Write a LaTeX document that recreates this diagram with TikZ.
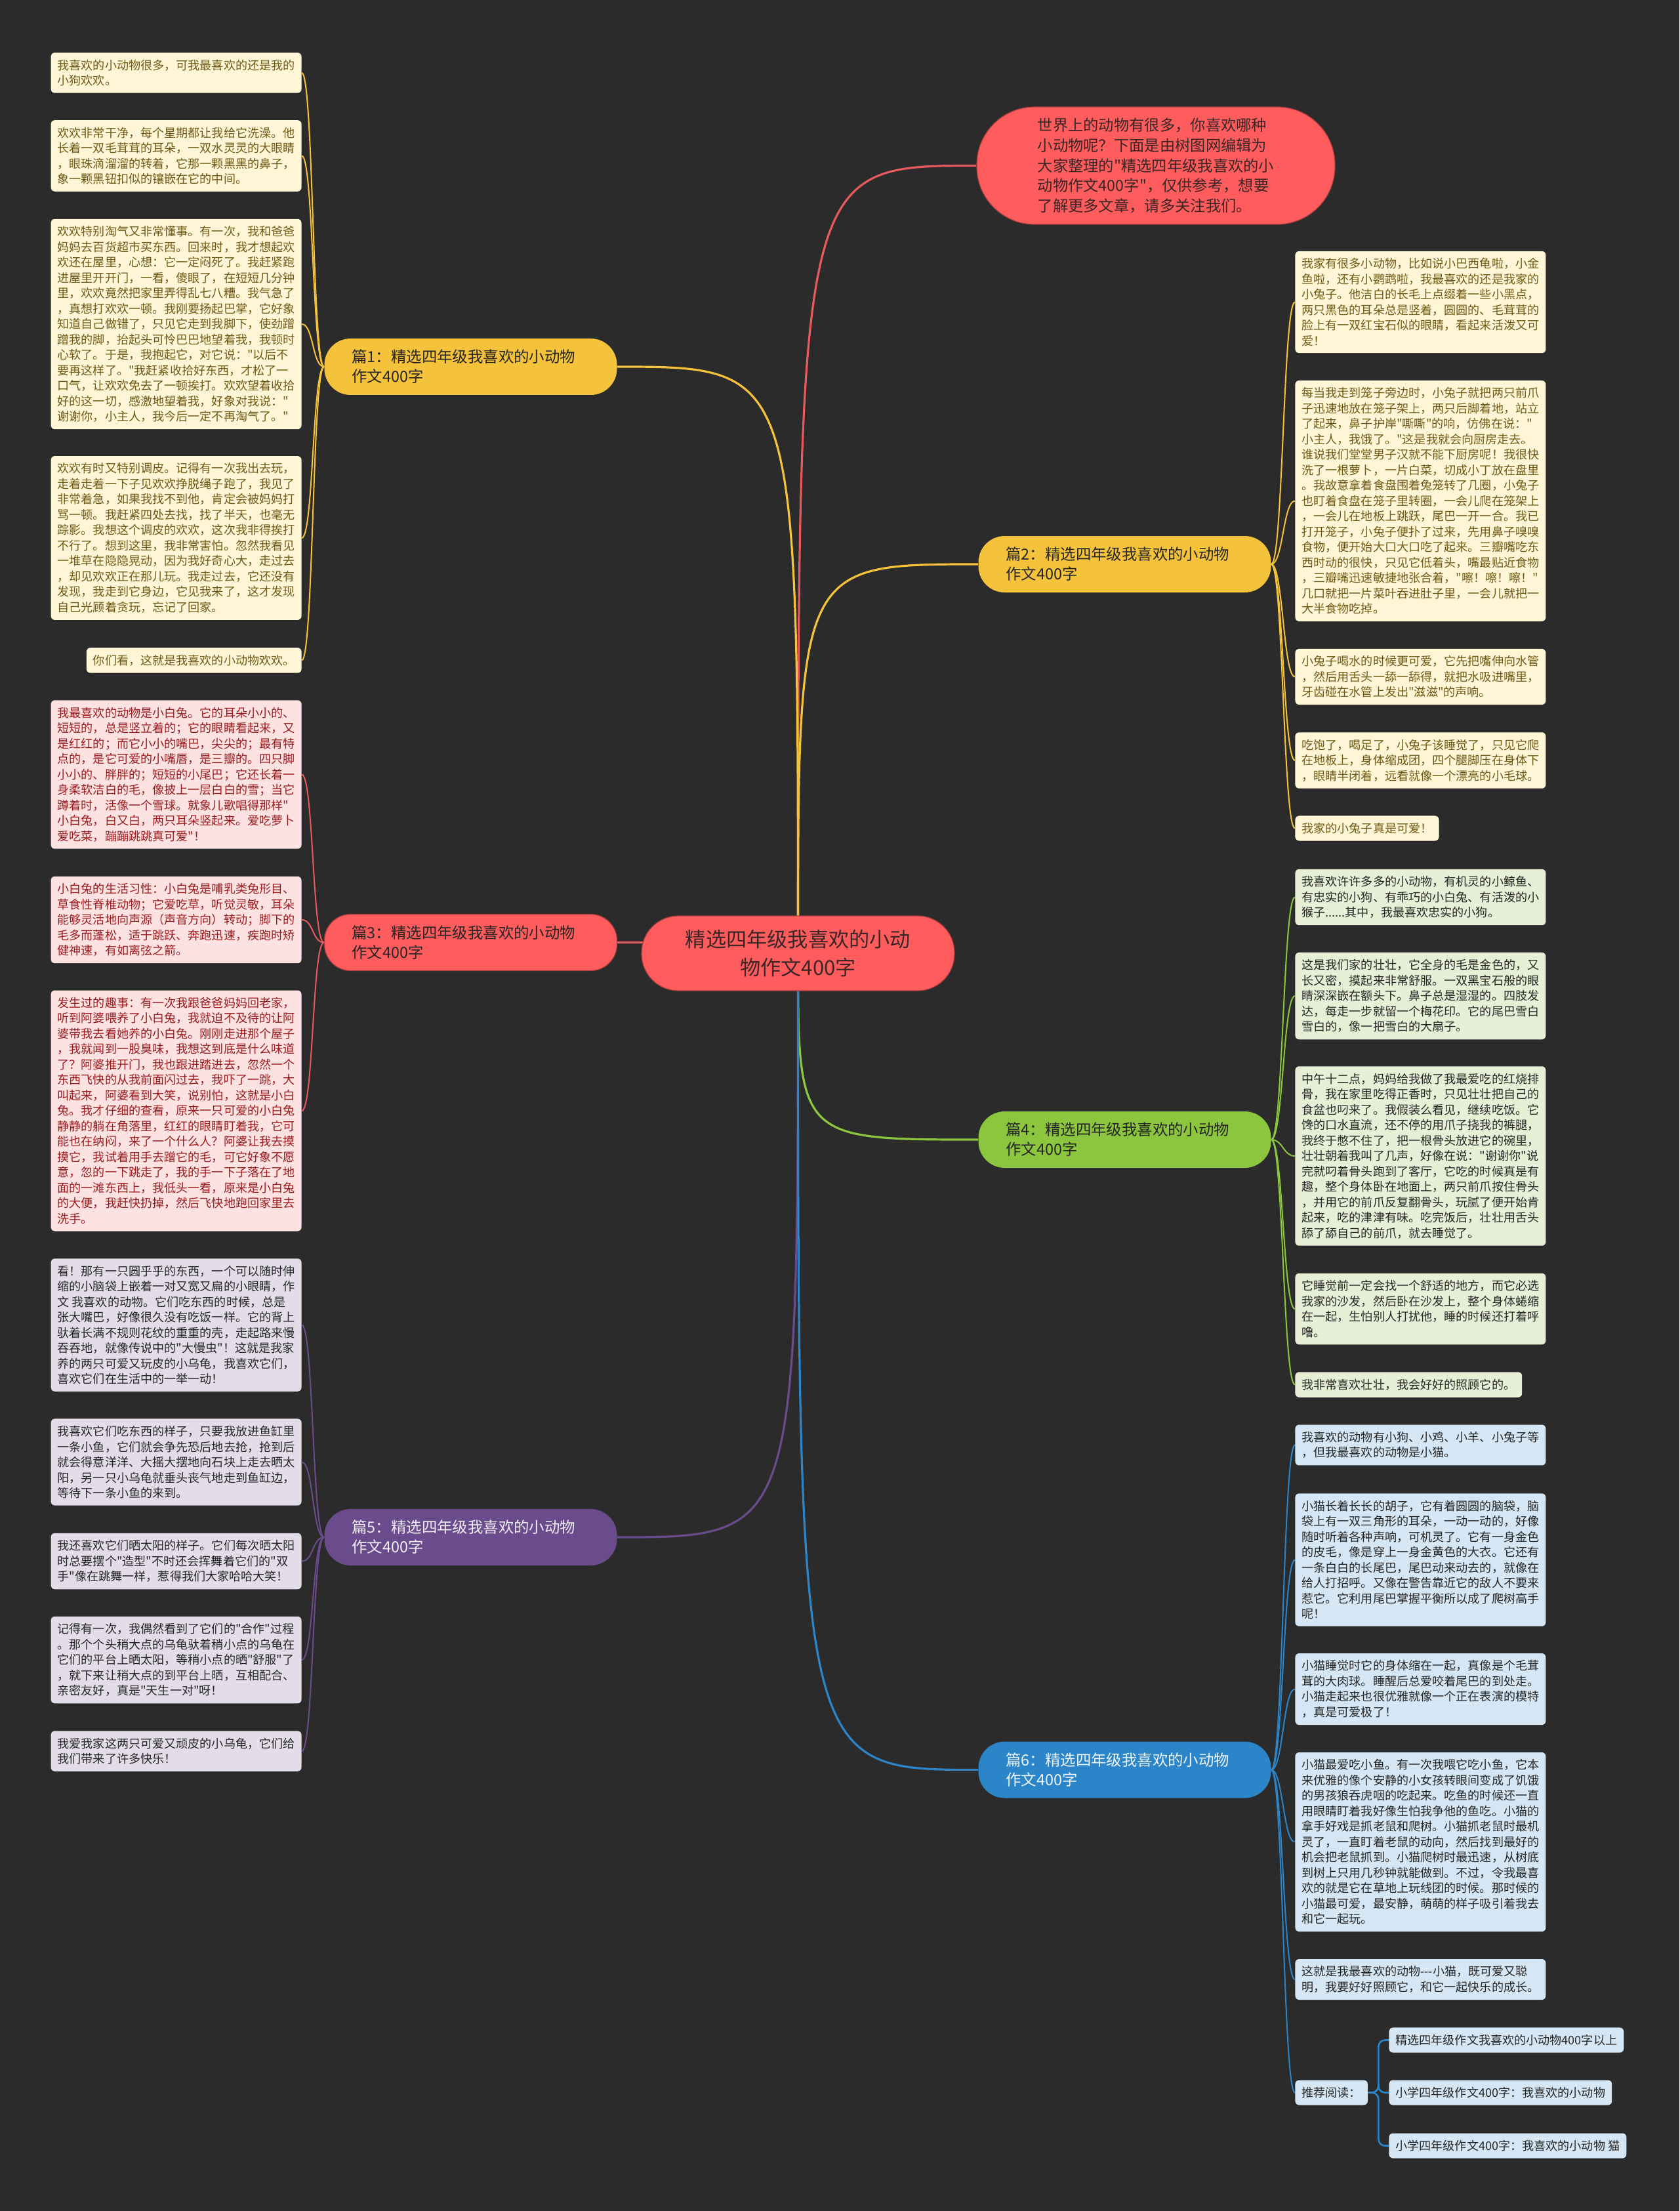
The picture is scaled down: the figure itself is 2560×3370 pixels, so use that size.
\documentclass[tikz,border=0pt]{standalone}
\usepackage{fontspec}
\setmainfont{Noto Sans CJK SC}[Ligatures=TeXOff]

\definecolor{bgcol}{HTML}{2B2B2B}
\definecolor{cenred}{HTML}{FF5C5E}
\definecolor{centext}{HTML}{3A2626}
\definecolor{ylw}{HTML}{F5C23C}
\definecolor{ylwfill}{HTML}{FFF6D8}
\definecolor{ylwtext}{HTML}{6E5A14}
\definecolor{rd}{HTML}{FF5C5E}
\definecolor{rdline}{HTML}{E65A5D}
\definecolor{rdfill}{HTML}{FDE2E2}
\definecolor{rdtext}{HTML}{9B1B1E}
\definecolor{grn}{HTML}{8CC63F}
\definecolor{grnfill}{HTML}{E7F0D6}
\definecolor{pur}{HTML}{6A4C8C}
\definecolor{purfill}{HTML}{E2DDE9}
\definecolor{blu}{HTML}{2B85C8}
\definecolor{blufill}{HTML}{D5E7F4}
\definecolor{darktext}{HTML}{262626}

\pgfdeclarelayer{fondo}
\pgfdeclarelayer{lineas}
\pgfsetlayers{fondo,lineas,main}

\begin{document}
\begin{tikzpicture}[x=0.5pt,y=-0.5pt,
  leaf/.style={rounded corners=3pt,align=left,inner xsep=5pt,inner ysep=5.3pt,
    font=\fontsize{9.05}{11.75}\selectfont},
  yleaf/.style={leaf,fill=ylwfill,text=ylwtext},
  rleaf/.style={leaf,fill=rdfill,text=rdtext},
  gleaf/.style={leaf,fill=grnfill,text=darktext},
  pleaf/.style={leaf,fill=purfill,text=darktext},
  bleaf/.style={leaf,fill=blufill,text=darktext},
  branch/.style={rounded corners=20pt,align=left,text width=181pt,inner xsep=21pt,
    minimum height=43pt,font=\fontsize{11.7}{15}\selectfont},
  rednode/.style={fill=cenred,draw=cenred!65!black,line width=0.6pt,text=centext},
  mainline/.style={line width=1.6pt},
  leafline/.style={line width=1pt}]
  % ============ fondo ============
  \begin{pgfonlayer}{fondo}
    \fill[bgcol] (0,0) rectangle (2560,3370);
  \end{pgfonlayer}
  % ============ nodos principales ============
  \node[rednode,rounded corners=28pt,minimum width=238.5pt,minimum height=57pt,
    align=center,font=\fontsize{15.6}{21.5}\selectfont] (cen) at (1216.5,1453)
    {精选四年级我喜欢的小动\\物作文400字};
  \node[rednode,rounded corners=44pt,minimum width=273pt,minimum height=89.5pt,
    align=left,font=\fontsize{11.65}{15.35}\selectfont] (intro) at (1762,252.5)
    {世界上的动物有很多，你喜欢哪种\\小动物呢？下面是由树图网编辑为\\大家整理的"精选四年级我喜欢的小\\动物作文400字"，仅供参考，想要\\了解更多文章，请多关注我们。};
  \node[branch,fill=ylw,text=darktext] (p1) at (717.5,559) {篇1：精选四年级我喜欢的小动物\\作文400字};
  \node[branch,fill=ylw,text=darktext] (p2) at (1714.5,860) {篇2：精选四年级我喜欢的小动物\\作文400字};
  \node[branch,rednode,text=darktext] (p3) at (717.5,1436.5) {篇3：精选四年级我喜欢的小动物\\作文400字};
  \node[branch,fill=grn,text=darktext] (p4) at (1714.5,1737) {篇4：精选四年级我喜欢的小动物\\作文400字};
  \node[branch,fill=pur,text=white!90!pur] (p5) at (717.5,2343) {篇5：精选四年级我喜欢的小动物\\作文400字};
  \node[branch,fill=blu,text=white!92!blu] (p6) at (1714.5,2697.5) {篇6：精选四年级我喜欢的小动物\\作文400字};
  % ============ 篇1 (izquierda) ============
  \node[yleaf,anchor=east] (p1a) at (460,111) {我喜欢的小动物很多，可我最喜欢的还是我的\\小狗欢欢。};
  \node[yleaf,anchor=east] (p1b) at (460,237.5) {欢欢非常干净，每个星期都让我给它洗澡。他\\长着一双毛茸茸的耳朵，一双水灵灵的大眼睛\\，眼珠滴溜溜的转着，它那一颗黑黑的鼻子，\\象一颗黑钮扣似的镶嵌在它的中间。};
  \node[yleaf,anchor=east] (p1c) at (460,494) {欢欢特别淘气又非常懂事。有一次，我和爸爸\\妈妈去百货超市买东西。回来时，我才想起欢\\欢还在屋里，心想：它一定闷死了。我赶紧跑\\进屋里开开门，一看，傻眼了，在短短几分钟\\里，欢欢竟然把家里弄得乱七八糟。我气急了\\，真想打欢欢一顿。我刚要扬起巴掌，它好象\\知道自己做错了，只见它走到我脚下，使劲蹭\\蹭我的脚，抬起头可怜巴巴地望着我，我顿时\\心软了。于是，我抱起它，对它说："以后不\\要再这样了。"我赶紧收拾好东西，才松了一\\口气，让欢欢免去了一顿挨打。欢欢望着收拾\\好的这一切，感激地望着我，好象对我说："\\谢谢你，小主人，我今后一定不再淘气了。"};
  \node[yleaf,anchor=east] (p1d) at (460,820) {欢欢有时又特别调皮。记得有一次我出去玩，\\走着走着一下子见欢欢挣脱绳子跑了，我见了\\非常着急，如果我找不到他，肯定会被妈妈打\\骂一顿。我赶紧四处去找，找了半天，也毫无\\踪影。我想这个调皮的欢欢，这次我非得挨打\\不行了。想到这里，我非常害怕。忽然我看见\\一堆草在隐隐晃动，因为我好奇心大，走过去\\，却见欢欢正在那儿玩。我走过去，它还没有\\发现，我走到它身边，它见我来了，这才发现\\自己光顾着贪玩，忘记了回家。};
  \node[yleaf,anchor=east] (p1e) at (460,1006.5) {你们看，这就是我喜欢的小动物欢欢。};
  % ============ 篇3 (izquierda) ============
  \node[rleaf,anchor=east] (p3a) at (460,1180.5) {我最喜欢的动物是小白兔。它的耳朵小小的、\\短短的，总是竖立着的；它的眼睛看起来，又\\是红红的；而它小小的嘴巴，尖尖的；最有特\\点的，是它可爱的小嘴唇，是三瓣的。四只脚\\小小的、胖胖的；短短的小尾巴；它还长着一\\身柔软洁白的毛，像披上一层白白的雪；当它\\蹲着时，活像一个雪球。就象儿歌唱得那样"\\小白兔，白又白，两只耳朵竖起来。爱吃萝卜\\爱吃菜，蹦蹦跳跳真可爱"！};
  \node[rleaf,anchor=east] (p3b) at (460,1402) {小白兔的生活习性：小白兔是哺乳类兔形目、\\草食性脊椎动物；它爱吃草，听觉灵敏，耳朵\\能够灵活地向声源（声音方向）转动；脚下的\\毛多而蓬松，适于跳跃、奔跑迅速，疾跑时矫\\健神速，有如离弦之箭。};
  \node[rleaf,anchor=east] (p3c) at (460,1693) {发生过的趣事：有一次我跟爸爸妈妈回老家，\\听到阿婆喂养了小白兔，我就迫不及待的让阿\\婆带我去看她养的小白兔。刚刚走进那个屋子\\，我就闻到一股臭味，我想这到底是什么味道\\了？阿婆推开门，我也跟进踏进去，忽然一个\\东西飞快的从我前面闪过去，我吓了一跳，大\\叫起来，阿婆看到大笑，说别怕，这就是小白\\兔。我才仔细的查看，原来一只可爱的小白兔\\静静的躺在角落里，红红的眼睛盯着我，它可\\能也在纳闷，来了一个什么人？阿婆让我去摸\\摸它，我试着用手去蹭它的毛，可它好象不愿\\意，忽的一下跳走了，我的手一下子落在了地\\面的一滩东西上，我低头一看，原来是小白兔\\的大便，我赶快扔掉，然后飞快地跑回家里去\\洗手。};
  % ============ 篇5 (izquierda) ============
  \node[pleaf,anchor=east] (p5a) at (460,2019.5) {看！那有一只圆乎乎的东西，一个可以随时伸\\缩的小脑袋上嵌着一对又宽又扁的小眼睛，作\\文 我喜欢的动物。它们吃东西的时候，总是\\张大嘴巴，好像很久没有吃饭一样。它的背上\\驮着长满不规则花纹的重重的壳，走起路来慢\\吞吞地，就像传说中的"大慢虫"！这就是我家\\养的两只可爱又玩皮的小乌龟，我喜欢它们，\\喜欢它们在生活中的一举一动！};
  \node[pleaf,anchor=east] (p5b) at (460,2228.5) {我喜欢它们吃东西的样子，只要我放进鱼缸里\\一条小鱼，它们就会争先恐后地去抢，抢到后\\就会得意洋洋、大摇大摆地向石块上走去晒太\\阳，另一只小乌龟就垂头丧气地走到鱼缸边，\\等待下一条小鱼的来到。};
  \node[pleaf,anchor=east] (p5c) at (460,2379.5) {我还喜欢它们晒太阳的样子。它们每次晒太阳\\时总要摆个"造型"不时还会挥舞着它们的"双\\手"像在跳舞一样，惹得我们大家哈哈大笑！};
  \node[pleaf,anchor=east] (p5d) at (460,2530) {记得有一次，我偶然看到了它们的"合作"过程\\。那个个头稍大点的乌龟驮着稍小点的乌龟在\\它们的平台上晒太阳，等稍小点的晒"舒服"了\\，就下来让稍大点的到平台上晒，互相配合、\\亲密友好，真是"天生一对"呀！};
  \node[pleaf,anchor=east] (p5e) at (460,2669) {我爱我家这两只可爱又顽皮的小乌龟，它们给\\我们带来了许多快乐！};
  % ============ 篇2 (derecha) ============
  \node[yleaf,anchor=west] (p2a) at (1974,460.5) {我家有很多小动物，比如说小巴西龟啦，小金\\鱼啦，还有小鹦鹉啦，我最喜欢的还是我家的\\小兔子。他洁白的长毛上点缀着一些小黑点，\\两只黑色的耳朵总是竖着，圆圆的、毛茸茸的\\脸上有一双红宝石似的眼睛，看起来活泼又可\\爱！};
  \node[yleaf,anchor=west] (p2b) at (1974,763.5) {每当我走到笼子旁边时，小兔子就把两只前爪\\子迅速地放在笼子架上，两只后脚着地，站立\\了起来，鼻子护岸"嘶嘶"的响，仿佛在说："\\小主人，我饿了。"这是我就会向厨房走去。\\谁说我们堂堂男子汉就不能下厨房呢！我很快\\洗了一根萝卜，一片白菜，切成小丁放在盘里\\。我故意拿着食盘围着兔笼转了几圈，小兔子\\也盯着食盘在笼子里转圈，一会儿爬在笼架上\\，一会儿在地板上跳跃，尾巴一开一合。我已\\打开笼子，小兔子便扑了过来，先用鼻子嗅嗅\\食物，便开始大口大口吃了起来。三瓣嘴吃东\\西时动的很快，只见它低着头，嘴最贴近食物\\，三瓣嘴迅速敏捷地张合着，"嚓！嚓！嚓！"\\几口就把一片菜叶吞进肚子里，一会儿就把一\\大半食物吃掉。};
  \node[yleaf,anchor=west] (p2c) at (1974,1031.5) {小兔子喝水的时候更可爱，它先把嘴伸向水管\\，然后用舌头一舔一舔得，就把水吸进嘴里，\\牙齿碰在水管上发出"滋滋"的声响。};
  \node[yleaf,anchor=west] (p2d) at (1974,1159) {吃饱了，喝足了，小兔子该睡觉了，只见它爬\\在地板上，身体缩成团，四个腿脚压在身体下\\，眼睛半闭着，远看就像一个漂亮的小毛球。};
  \node[yleaf,anchor=west] (p2e) at (1974,1262.5) {我家的小兔子真是可爱！};
  % ============ 篇4 (derecha) ============
  \node[gleaf,anchor=west] (p4a) at (1974,1367.5) {我喜欢许许多多的小动物，有机灵的小鲸鱼、\\有忠实的小狗、有乖巧的小白兔、有活泼的小\\猴子......其中，我最喜欢忠实的小狗。};
  \node[gleaf,anchor=west] (p4b) at (1974,1518) {这是我们家的壮壮，它全身的毛是金色的，又\\长又密，摸起来非常舒服。一双黑宝石般的眼\\睛深深嵌在额头下。鼻子总是湿湿的。四肢发\\达，每走一步就留一个梅花印。它的尾巴雪白\\雪白的，像一把雪白的大扇子。};
  \node[gleaf,anchor=west] (p4c) at (1974,1762) {中午十二点，妈妈给我做了我最爱吃的红烧排\\骨，我在家里吃得正香时，只见壮壮把自己的\\食盆也叼来了。我假装么看见，继续吃饭。它\\馋的口水直流，还不停的用爪子挠我的裤腿，\\我终于憋不住了，把一根骨头放进它的碗里，\\壮壮朝着我叫了几声，好像在说："谢谢你"说\\完就叼着骨头跑到了客厅，它吃的时候真是有\\趣，整个身体卧在地面上，两只前爪按住骨头\\，并用它的前爪反复翻骨头，玩腻了便开始肯\\起来，吃的津津有味。吃完饭后，壮壮用舌头\\舔了舔自己的前爪，就去睡觉了。};
  \node[gleaf,anchor=west] (p4d) at (1974,1995) {它睡觉前一定会找一个舒适的地方，而它必选\\我家的沙发，然后卧在沙发上，整个身体蜷缩\\在一起，生怕别人打扰他，睡的时候还打着呼\\噜。};
  \node[gleaf,anchor=west] (p4e) at (1974,2110.5) {我非常喜欢壮壮，我会好好的照顾它的。};
  % ============ 篇6 (derecha) ============
  \node[bleaf,anchor=west] (p6a) at (1974,2202.5) {我喜欢的动物有小狗、小鸡、小羊、小兔子等\\，但我最喜欢的动物是小猫。};
  \node[bleaf,anchor=west] (p6b) at (1974,2377.5) {小猫长着长长的胡子，它有着圆圆的脑袋，脑\\袋上有一双三角形的耳朵，一动一动的，好像\\随时听着各种声响，可机灵了。它有一身金色\\的皮毛，像是穿上一身金黄色的大衣。它还有\\一条白白的长尾巴，尾巴动来动去的，就像在\\给人打招呼。又像在警告靠近它的敌人不要来\\惹它。它利用尾巴掌握平衡所以成了爬树高手\\呢！};
  \node[bleaf,anchor=west] (p6c) at (1974,2574.5) {小猫睡觉时它的身体缩在一起，真像是个毛茸\\茸的大肉球。睡醒后总爱咬着尾巴的到处走。\\小猫走起来也很优雅就像一个正在表演的模特\\，真是可爱极了！};
  \node[bleaf,anchor=west] (p6d) at (1974,2807.5) {小猫最爱吃小鱼。有一次我喂它吃小鱼，它本\\来优雅的像个安静的小女孩转眼间变成了饥饿\\的男孩狼吞虎咽的吃起来。吃鱼的时候还一直\\用眼睛盯着我好像生怕我争他的鱼吃。小猫的\\拿手好戏是抓老鼠和爬树。小猫抓老鼠时最机\\灵了，一直盯着老鼠的动向，然后找到最好的\\机会把老鼠抓到。小猫爬树时最迅速，从树底\\到树上只用几秒钟就能做到。不过，令我最喜\\欢的就是它在草地上玩线团的时候。那时候的\\小猫最可爱，最安静，萌萌的样子吸引着我去\\和它一起玩。};
  \node[bleaf,anchor=west] (p6e) at (1974,3017) {这就是我最喜欢的动物-{}-{}-小猫，既可爱又聪\\明，我要好好照顾它，和它一起快乐的成长。};
  \node[bleaf,anchor=west] (tj) at (1974,3189.5) {推荐阅读：};
  \node[bleaf,anchor=west] (tj1) at (2117,3109.5) {精选四年级作文我喜欢的小动物400字以上};
  \node[bleaf,anchor=west] (tj2) at (2117,3189.5) {小学四年级作文400字：我喜欢的小动物};
  \node[bleaf,anchor=west] (tj3) at (2117,3270.5) {小学四年级作文400字：我喜欢的小动物 猫};
  % ============ conexiones (debajo de los nodos) ============
  \begin{pgfonlayer}{lineas}
  % ramas desde el centro
  \draw[mainline,rdline] (cen.center) .. controls (cen.center |- intro.west) .. (intro.west);
  \draw[mainline,ylw] (cen.center) .. controls (cen.center |- p1.east) .. (p1.east);
  \draw[mainline,ylw] (cen.center) .. controls (cen.center |- p2.west) .. (p2.west);
  \draw[mainline,rdline] (cen.center) .. controls (cen.center |- p3.east) .. (p3.east);
  \draw[mainline,grn] (cen.center) .. controls (cen.center |- p4.west) .. (p4.west);
  \draw[mainline,pur] (cen.center) .. controls (cen.center |- p5.east) .. (p5.east);
  \draw[mainline,blu] (cen.center) .. controls (cen.center |- p6.west) .. (p6.west);
  % hojas
  \foreach \l in {p1a,p1b,p1c,p1d,p1e}
    \draw[leafline,ylw] (p1.west) .. controls +(-18,0) and +(18,0) .. (\l.east);
  \foreach \l in {p3a,p3b,p3c}
    \draw[leafline,rdline] (p3.west) .. controls +(-18,0) and +(18,0) .. (\l.east);
  \foreach \l in {p5a,p5b,p5c,p5d,p5e}
    \draw[leafline,pur] (p5.west) .. controls +(-18,0) and +(18,0) .. (\l.east);
  \foreach \l in {p2a,p2b,p2c,p2d,p2e}
    \draw[leafline,ylw] (p2.east) .. controls +(18,0) and +(-18,0) .. (\l.west);
  \foreach \l in {p4a,p4b,p4c,p4d,p4e}
    \draw[leafline,grn] (p4.east) .. controls +(18,0) and +(-18,0) .. (\l.west);
  \foreach \l in {p6a,p6b,p6c,p6d,p6e,tj}
    \draw[leafline,blu] (p6.east) .. controls +(18,0) and +(-18,0) .. (\l.west);
  \foreach \l in {tj1,tj2,tj3}
    \draw[line width=1.3pt,blu,rounded corners=5pt] (tj.east) -- ++(16,0) |- (\l.west);
  \end{pgfonlayer}
\end{tikzpicture}
\end{document}
